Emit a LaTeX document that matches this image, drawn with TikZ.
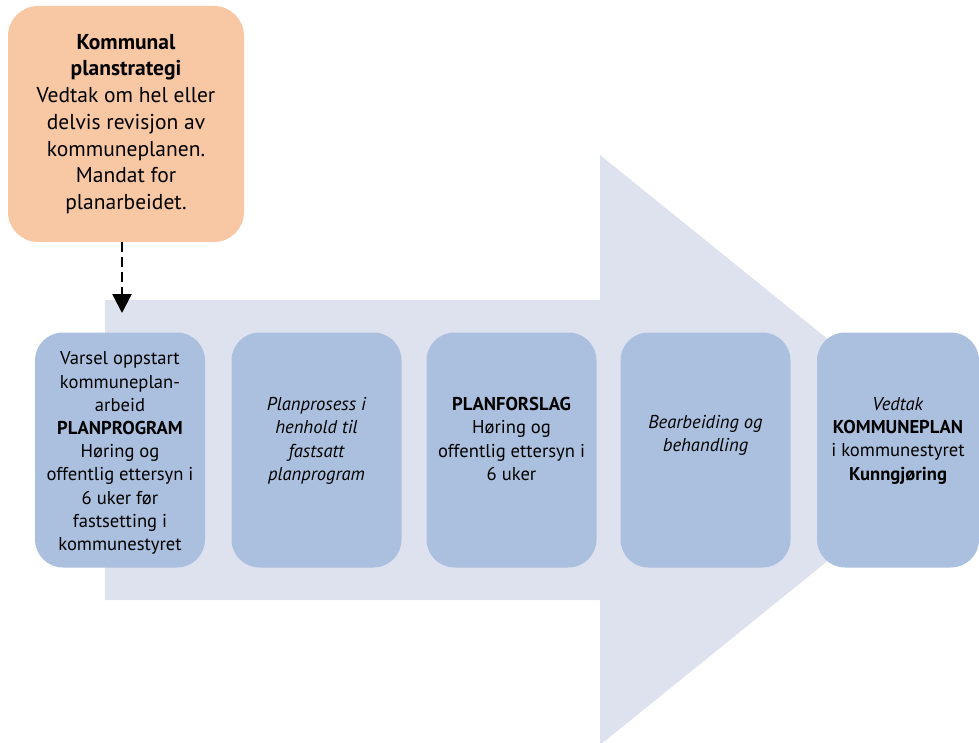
\documentclass[tikz,border=0pt]{standalone}
\usepackage{fontspec}
\setmainfont{PT Sans}
\usepackage{xcolor}
\definecolor{stratorange}{HTML}{F8C7A3}
\definecolor{stepblue}{HTML}{AAC0DE}
\definecolor{flowgrey}{HTML}{DEE2EF}
\usepackage{tikz}
\usetikzlibrary{positioning,arrows.meta}
\tikzset{
  pbox/.style ={rectangle, rounded corners=28pt, fill=stepblue, draw=none,
                minimum width=170pt, minimum height=235pt, inner sep=0pt},
  ptxt/.style ={align=center, inner sep=0pt, font=\fontsize{18.6}{23.2}\selectfont},
  sbox/.style ={rectangle, rounded corners=30pt, fill=stratorange, draw=none,
                minimum width=236pt, minimum height=236pt, align=center,
                inner sep=0pt, font=\fontsize{21.5}{26.7}\selectfont},
  darr/.style ={-{Triangle[length=19pt, width=19pt]}, line width=2.4pt,
                dash pattern=on 10pt off 5pt},
}

\begin{document}
\begin{tikzpicture}[x=1pt, y=-1pt]
  \useasboundingbox (0,0) rectangle (979,743);
  % big background arrow
  \fill[flowgrey] (105,300) -- (600,300) -- (600,155) -- (965,450)
                  -- (600,745) -- (600,600) -- (105,600) -- cycle;

  \node[sbox] (strat) at (126,124) {\textbf{Kommunal}\\\textbf{planstrategi}\\Vedtak om hel eller\\delvis revisjon av\\kommuneplanen.\\Mandat for\\planarbeidet.};
  \coordinate (tip) at (122,313);
  \draw[darr] (strat.south -| tip) -- (tip);

  \node[pbox] (b1) at (120,450) {};
  \node[pbox] (b2) at (316.5,450) {};
  \node[pbox] (b3) at (511.5,450) {};
  \node[pbox] (b4) at (705.5,450) {};
  \node[pbox, minimum width=162pt] (b5) at (898,450) {};

  \node[ptxt] (t1) at ([yshift=-3pt]b1.center) {Varsel oppstart\\kommuneplan-\\arbeid\\\textbf{PLANPROGRAM}\\Høring og\\offentlig ettersyn i\\6 uker før\\fastsetting i\\kommunestyret};
  \node[ptxt, anchor=north, below=65pt of b2.north] (t2) {\itshape Planprosess i\\\itshape henhold til\\\itshape fastsatt\\\itshape planprogram};
  \node[ptxt, anchor=north, below=65pt of b3.north] (t3) {\textbf{PLANFORSLAG}\\Høring og\\offentlig ettersyn i\\6 uker};
  \node[ptxt, anchor=north, below=83pt of b4.north] (t4) {\itshape Bearbeiding og\\\itshape behandling};
  \node[ptxt, anchor=north, below=65pt of b5.north] (t5) {\textit{Vedtak}\\\textbf{KOMMUNEPLAN}\\i kommunestyret\\\textbf{Kunngjøring}};
\end{tikzpicture}
\end{document}
